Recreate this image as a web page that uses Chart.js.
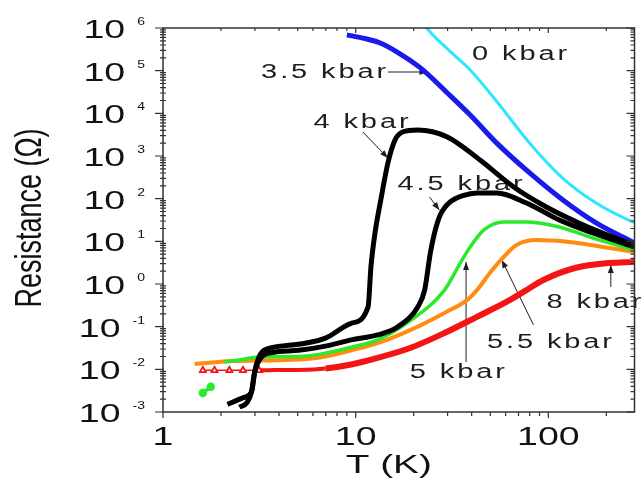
<!DOCTYPE html>
<html>
<head>
<meta charset="utf-8">
<script src="https://cdn.jsdelivr.net/npm/chart.js@4/dist/chart.umd.min.js"></script>
<style>
  html, body { margin: 0; padding: 0; background: #fff; }
  #wrap { width: 642px; height: 480px; position: relative; }
</style>
</head>
<body>
<div id="wrap"><canvas id="chart"></canvas></div>
<script>
// Resistance (ohm) vs temperature (K) for each pressure
const T_0kbar = [22.5, 23.6, 30.5, 39.3, 54, 80, 119, 177, 261, 280];
const R_0kbar = [1.3e6, 9.5e5, 3.0e5, 1.04e5, 1.9e4, 2.0e3, 300, 79, 31.6, 28];

const T_3p5kbar = [9.0, 10.9, 13.5, 16.5, 21.7, 29.9, 39.3, 54, 80, 119, 177, 280];
const R_3p5kbar = [6.9e5, 5.8e5, 4.4e5, 2.7e5, 1.16e5, 3.0e4, 9.1e3, 2.0e3, 400, 93, 27, 9.1];

const T_4kbar = [2.16, 2.43, 2.64, 2.87, 2.97, 3.08, 3.35, 4.66, 6.97, 9.48, 11.6, 12.0, 12.6, 13.5, 14.7, 16.0, 17.5, 21.0, 29.9, 44.2, 66.1, 97.7, 144, 216, 280];
const R_4kbar = [0.0015, 0.0019, 0.0022, 0.0029, 0.0074, 0.0149, 0.028, 0.037, 0.054, 0.12, 0.29, 2.5, 15.7, 93, 685, 2370, 3650, 4070, 2800, 805, 188, 64, 27, 12.6, 8.2];

const T_4p5kbar = [2.49, 2.74, 2.9, 3.0, 3.23, 3.55, 5.06, 6.97, 9.48, 13.0, 16.5, 21.0, 22.8, 24.4, 25.5, 26.6, 27.5, 29.0, 31.0, 36.0, 42.6, 54, 77, 114, 170, 280];
const R_4p5kbar = [0.0013, 0.0017, 0.0033, 0.009, 0.019, 0.024, 0.028, 0.035, 0.049, 0.064, 0.098, 0.29, 0.72, 5.3, 14, 28, 42, 62, 85, 118, 136, 136, 79, 31.6, 15.7, 7.4];

// null = gap between the two isolated low-T points and the rest
const T_5kbar = [1.61, 1.77, 1.9, 2.08, 2.49, 3.15, 5.06, 6.97, 9.48, 13.0, 19.3, 28.9, 34.9, 39.3, 46.3, 58.7, 77, 114, 170, 280];
const R_5kbar = [0.0028, 0.0039, null, 0.0149, 0.0166, 0.0195, 0.020, 0.024, 0.033, 0.049, 0.14, 0.72, 3.1, 7.4, 18.5, 28.4, 28.4, 21.7, 12, 6.3];

const T_5p5kbar = [1.46, 2.16, 3.15, 5.06, 6.97, 9.48, 13.0, 19.3, 28.9, 37.8, 42.6, 49.7, 58.7, 68.4, 86.7, 128, 192, 280];
const R_5p5kbar = [0.0133, 0.0155, 0.016, 0.017, 0.020, 0.028, 0.041, 0.084, 0.21, 0.42, 0.72, 1.8, 4.3, 8.2, 10.7, 9.7, 7.4, 5.6];

const T_8kbar = [1.61, 1.85, 2.21, 2.6, 3.15, 3.8, 5.06, 6.97, 9.48, 13.0, 19.3, 28.9, 42.6, 63, 77, 94.2, 139, 206, 280];
const R_8kbar = [0.0095, 0.0095, 0.0095, 0.0095, 0.0095, 0.0096, 0.0097, 0.0105, 0.013, 0.0185, 0.032, 0.071, 0.17, 0.42, 0.72, 1.24, 2.4, 3.1, 3.3];

// axis ticks
const X_TICKS = [1, 10, 100];
const Y_EXPONENTS = [-3, -2, -1, 0, 1, 2, 3, 4, 5, 6];

// curve labels (left edge / baseline, in data units) and their pointer lines
const LABELS = [
  { text: '0 kbar', t: 40.2, r: 1.78e5 },
  { text: '3.5 kbar', t: 3.23, r: 6.7e4 },
  { text: '4 kbar', t: 6.04, r: 4530 },
  { text: '4.5 kbar', t: 16.5, r: 160 },
  { text: '5 kbar', t: 19.1, r: 6.3e-3 },
  { text: '5.5 kbar', t: 48, r: 0.0316 },
  { text: '8 kbar', t: 97.7, r: 0.274 }
];
const POINTERS = [
  { t1: 14.7, r1: 9.3e4, t2: 23.6, r2: 9.3e4 },
  { t1: 10.9, r1: 3650, t2: 14.7, r2: 898 },
  { t1: 24.2, r1: 109, t2: 27.2, r2: 54 },
  { t1: 37.4, r1: 0.0149, t2: 37.4, r2: 3.28 },
  { t1: 83.7, r1: 0.11, t2: 57.3, r2: 3.66 },
  { t1: 211, r1: 0.85, t2: 211, r2: 2.79 }
];

const FONT = '"Liberation Sans", Arial, sans-serif';

function pairs(ts, rs) {
  return ts.map((t, i) => ({ x: t, y: rs[i] }));
}

// the source figure is stretched sideways, so text is drawn widened
function drawWide(ctx, text, x, y, size, sx, align, spacing) {
  ctx.save();
  ctx.font = size + 'px ' + FONT;
  ctx.letterSpacing = (spacing || 0) + 'px';
  const w = ctx.measureText(text).width * sx;
  let left = x;
  if (align === 'right') left = x - w;
  else if (align === 'center') left = x - w / 2;
  ctx.translate(left, y);
  ctx.scale(sx, 1);
  ctx.textAlign = 'left';
  ctx.textBaseline = 'alphabetic';
  ctx.fillText(text, 0, 0);
  ctx.restore();
  return w;
}

function drawPointer(ctx, x1, y1, x2, y2) {
  ctx.beginPath();
  ctx.moveTo(x1, y1);
  ctx.lineTo(x2, y2);
  ctx.stroke();
  const a = Math.atan2(y2 - y1, x2 - x1);
  ctx.beginPath();
  ctx.moveTo(x2, y2);
  ctx.lineTo(x2 - 8 * Math.cos(a) + 3 * Math.sin(a), y2 - 8 * Math.sin(a) - 3 * Math.cos(a));
  ctx.lineTo(x2 - 8 * Math.cos(a) - 3 * Math.sin(a), y2 - 8 * Math.sin(a) + 3 * Math.cos(a));
  ctx.closePath();
  ctx.fill();
}

const labelPlugin = {
  id: 'curveLabels',
  beforeDatasetsDraw(chart) {
    const { ctx, scales: { x, y } } = chart;
    ctx.save();
    ctx.fillStyle = '#1e1e1e';
    ctx.strokeStyle = '#1e1e1e';
    ctx.lineWidth = 1;
    LABELS.forEach(l => {
      drawWide(ctx, l.text, x.getPixelForValue(l.t), y.getPixelForValue(l.r), 20, 1.45, 'left', 2);
    });
    POINTERS.forEach(p => {
      drawPointer(ctx, x.getPixelForValue(p.t1), y.getPixelForValue(p.r1),
        x.getPixelForValue(p.t2), y.getPixelForValue(p.r2));
    });
    ctx.restore();
  }
};

const framePlugin = {
  id: 'frame',
  afterDraw(chart) {
    const { ctx, chartArea: a, scales: { x, y } } = chart;
    ctx.save();
    ctx.strokeStyle = '#333';
    ctx.lineWidth = 1.5;
    ctx.strokeRect(a.left, a.top, a.right - a.left, a.bottom - a.top);

    ctx.lineWidth = 1.2;
    ctx.beginPath();
    // y ticks, both sides
    for (let k = -3; k <= 6; k++) {
      const py = y.getPixelForValue(Math.pow(10, k));
      ctx.moveTo(a.left - 8, py); ctx.lineTo(a.left + 1, py);
      ctx.moveTo(a.right - 8, py); ctx.lineTo(a.right, py);
      if (k === 6) continue;
      for (let m = 2; m <= 9; m++) {
        const pm = y.getPixelForValue(m * Math.pow(10, k));
        ctx.moveTo(a.left - 3, pm); ctx.lineTo(a.left + 3, pm);
        ctx.moveTo(a.right - 4, pm); ctx.lineTo(a.right, pm);
      }
    }
    // x ticks, bottom and top
    for (let k = 0; k <= 2; k++) {
      for (let m = 1; m <= 9; m++) {
        const v = m * Math.pow(10, k);
        if (v > 280) break;
        const px = x.getPixelForValue(v);
        const len = m === 1 ? 6 : 4;
        ctx.moveTo(px, a.bottom); ctx.lineTo(px, a.bottom + len);
        ctx.moveTo(px, a.top); ctx.lineTo(px, a.top + len - 1);
      }
    }
    ctx.stroke();

    // tick labels
    ctx.fillStyle = '#111';
    Y_EXPONENTS.forEach(k => {
      const py = y.getPixelForValue(Math.pow(10, k));
      const expW = drawWide(ctx, String(k), a.left - 18, py - 3, 10, 1.4, 'right');
      drawWide(ctx, '10', a.left - 18 - expW - 12, py + 10, 25, 1.5, 'right');
    });
    X_TICKS.forEach(v => {
      drawWide(ctx, String(v), x.getPixelForValue(v), a.bottom + 33, 25, 1.5, 'center');
    });

    // axis titles
    drawWide(ctx, 'T (K)', (a.left + a.right) / 2 - 10, a.bottom + 61, 25, 1.55, 'center');
    ctx.save();
    ctx.translate(41, (a.top + a.bottom) / 2 - 2);
    ctx.rotate(-Math.PI / 2);
    ctx.scale(1, 1.4);
    ctx.font = '27px ' + FONT;
    ctx.textAlign = 'center';
    ctx.textBaseline = 'alphabetic';
    ctx.fillText('Resistance (\u03A9)', 0, 0);
    ctx.restore();
    ctx.restore();
  }
};

function series(ts, rs, color, width, extra) {
  return Object.assign({
    data: pairs(ts, rs),
    borderColor: color,
    backgroundColor: color,
    borderWidth: width,
    pointRadius: 0,
    fill: false,
    spanGaps: false,
    clip: 0
  }, extra || {});
}

// first dataset is drawn on top
const datasets = [
  series(T_4kbar, R_4kbar, '#000000', 5, { label: '4 kbar' }),
  series(T_4p5kbar, R_4p5kbar, '#000000', 5, { label: '4.5 kbar' }),
  series(T_3p5kbar, R_3p5kbar, '#1a1aeb', 5, { label: '3.5 kbar' }),
  series(T_0kbar, R_0kbar, '#2ee6ff', 3, { label: '0 kbar' }),
  series(T_5kbar, R_5kbar, '#2ae82a', 3.5, {
    label: '5 kbar',
    pointRadius: ctx => (ctx.raw && ctx.raw.x < 1.9 ? 2.5 : 0)
  }),
  series(T_5p5kbar, R_5p5kbar, '#ff8c10', 4, { label: '5.5 kbar' }),
  series(T_8kbar, R_8kbar, '#f51414', 6, {
    label: '8 kbar',
    pointStyle: 'triangle',
    pointRadius: ctx => (ctx.raw && ctx.raw.x < 3.2 ? 3.5 : 0),
    pointBackgroundColor: '#fff',
    pointBorderColor: '#f51414',
    pointBorderWidth: 1.8,
    segment: { borderWidth: ctx => (ctx.p1.parsed.x <= 3.15 ? 1.5 : (ctx.p1.parsed.x <= 6.97 ? 4 : undefined)) }
  })
];

new Chart(document.getElementById('chart'), {
  type: 'line',
  data: { datasets },
  options: {
    responsive: true,
    maintainAspectRatio: false,
    animation: false,
    layout: { padding: { left: 163, right: 3, top: 28, bottom: 68 } },
    plugins: { legend: { display: false }, tooltip: { enabled: false } },
    elements: { line: { cubicInterpolationMode: 'monotone' } },
    scales: {
      x: { type: 'logarithmic', display: false, min: 1, max: 280 },
      y: { type: 'logarithmic', display: false, min: 1e-3, max: 1e6 }
    }
  },
  plugins: [labelPlugin, framePlugin]
});
</script>
</body>
</html>
